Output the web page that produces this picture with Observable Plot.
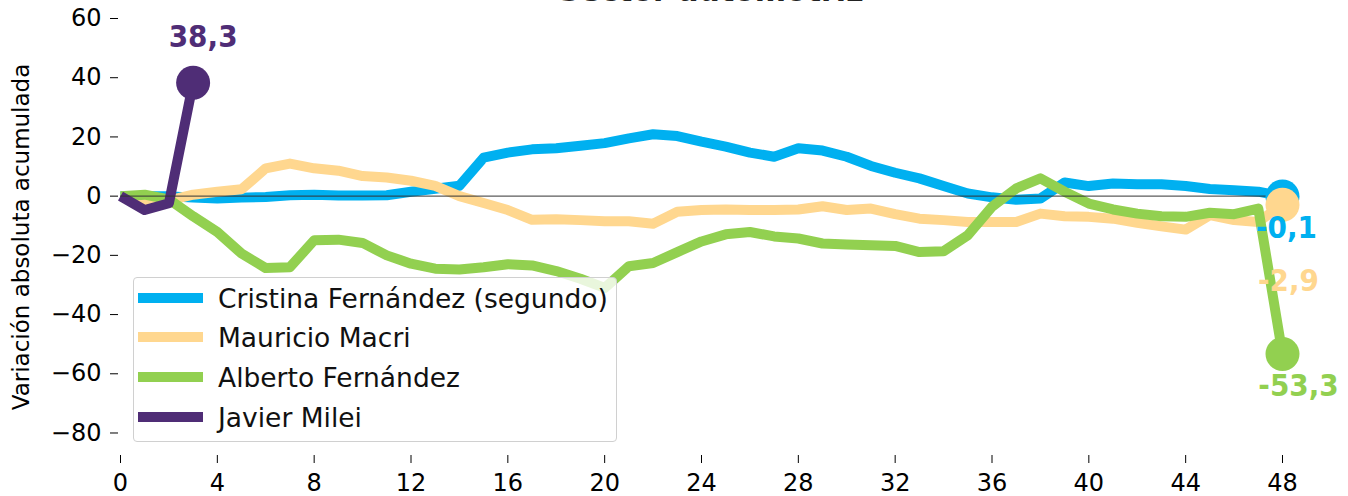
<!DOCTYPE html>
<html>
<head>
<meta charset="utf-8">
<script src="https://cdn.jsdelivr.net/npm/d3@7"></script>
<script src="https://cdn.jsdelivr.net/npm/@observablehq/plot@0.6"></script>
<style>
  html, body { margin: 0; padding: 0; background: #fff; overflow: hidden; }
  #wrap { position: relative; width: 1348px; height: 496px; }
  #title { position: absolute; top: -26px; left: 0; width: 1422px; text-align: center;
           font: bold 30px "DejaVu Sans", sans-serif; color: #222; line-height: 34px; }
  #legend { position: absolute; left: 133px; top: 277px; width: 482px; height: 163px;
            border: 1.5px solid #d0d0d0; border-radius: 4px; background: rgba(255,255,255,0.8);
            font-family: "DejaVu Sans", sans-serif; font-size: 26.5px; color: #111; }
  .row { position: absolute; left: 4px; height: 30px; display: flex; align-items: center; white-space: nowrap; }
  .sw { width: 65px; height: 10px; margin-right: 15px; }
</style>
</head>
<body>
<div id="wrap">
  <div id="chart"></div>
  <div id="legend"></div>
  <div id="title"></div>
</div>
<script>
const titleText = "Sector automotriz";
const yLabel = "Variación absoluta acumulada";
const seriesNames = ["Cristina Fernández (segundo)", "Mauricio Macri", "Alberto Fernández", "Javier Milei"];
const seriesColors = ["#00b0f0", "#ffd78f", "#92d050", "#4f2d76"];
const xTicks = [0, 4, 8, 12, 16, 20, 24, 28, 32, 36, 40, 44, 48];
const yTicks = [60, 40, 20, 0, -20, -40, -60, -80];

const cristina = [0, 0, 0, -0.5, -0.8, -0.5, -0.3, 0.3, 0.5, 0.2, 0.2, 0.3, 1.5, 2.5, 3.5, 13, 14.7, 15.8, 16.2, 17, 17.9, 19.5, 20.9, 20.3, 18.4, 16.7, 14.7, 13.3, 16.2, 15.4, 13.3, 10.2, 7.9, 6, 3.4, 0.9, -0.4, -1.2, -0.8, 4.6, 3.4, 4.3, 4, 4, 3.4, 2.4, 2, 1.5, -0.1];
const macri = [0, -1.9, -1.4, 0.5, 1.5, 2.3, 9.4, 11, 9.4, 8.6, 6.8, 6.3, 5.2, 3.5, 0, -2.3, -4.7, -8, -7.8, -8.1, -8.5, -8.5, -9.3, -5.3, -4.7, -4.5, -4.7, -4.7, -4.5, -3.4, -4.7, -4.2, -6.1, -7.6, -8.1, -8.7, -8.7, -8.7, -5.9, -6.8, -7, -7.6, -9, -10.2, -11.3, -6.4, -8.1, -8.7, -2.9];
const alberto = [0, 0.5, -1.1, -6.8, -12.1, -19.4, -24.3, -24, -14.9, -14.7, -15.8, -20, -22.8, -24.5, -24.8, -24, -23, -23.4, -25.3, -27.9, -31, -23.7, -22.6, -18.9, -15.3, -12.9, -12.1, -13.6, -14.3, -16, -16.3, -16.6, -16.8, -18.9, -18.6, -13.2, -3.6, 2.6, 6, 1.5, -2.5, -4.5, -5.9, -6.8, -7, -5.6, -6.1, -4.2, -53.3];
const milei = [0, -4.7, -2.4, 38.3];

const seriesValues = [cristina, macri, alberto, milei];
const rows = seriesNames.flatMap((name, s) => seriesValues[s].map((v, i) => ({series: name, month: i, value: v})));
const lastPoints = seriesNames.map((name, s) => {
  const vals = seriesValues[s];
  return {series: name, month: vals.length - 1, value: vals[vals.length - 1]};
});
const fmt = v => String(v).replace(".", ",");
const labelOffsets = {
  "Cristina Fernández (segundo)": [4, 32],
  "Mauricio Macri": [6, 76],
  "Alberto Fernández": [16, 32],
  "Javier Milei": [10, -46]
};
const minus = d => d < 0 ? "\u2212" + Math.abs(d) : String(d);

const chart = Plot.plot({
  width: 1348,
  height: 496,
  marginLeft: 120,
  marginRight: 66,
  marginTop: 18,
  marginBottom: 41,
  style: {fontFamily: "DejaVu Sans, sans-serif", fontSize: "24px", color: "#000", background: "#fff", overflow: "visible"},
  x: {domain: [0, 48], axis: null},
  y: {domain: [-87.6, 60], axis: null},
  color: {domain: seriesNames, range: seriesColors},
  marks: [
    Plot.axisX({ticks: xTicks, tickSize: 8, tickPadding: 10, tickFormat: d => String(d), fontSize: 24, label: null, dy: 0}),
    Plot.axisY({ticks: yTicks, tickSize: 8, tickPadding: 9, tickFormat: minus, fontSize: 24, dx: -2,
                label: yLabel, labelAnchor: "center", labelArrow: "none", labelOffset: 108}),
    Plot.line(rows, {x: "month", y: "value", stroke: "series", z: "series", strokeWidth: 10, strokeLinejoin: "round", strokeLinecap: "butt"}),
    Plot.ruleY([0], {x1: 0, x2: 48, stroke: "#333", strokeOpacity: 0.8, strokeWidth: 1.3}),
    Plot.dot(lastPoints, {x: "month", y: "value", fill: "series", r: 17, stroke: "none"}),
    ...lastPoints.map(p => Plot.text([p], {
      x: "month", y: "value", text: d => fmt(d.value), fill: "series",
      dx: labelOffsets[p.series][0], dy: labelOffsets[p.series][1],
      fontSize: 31, fontWeight: "bold",
      fontFamily: "DejaVu Sans Condensed, DejaVu Sans, sans-serif"
    }))
  ]
});
document.getElementById("chart").appendChild(chart);
d3.select(chart).selectAll("[aria-label='y-axis label'] text").style("font-size", "23px");

document.getElementById("title").textContent = titleText;

const legend = document.getElementById("legend");
const rowTops = [5, 44, 84, 124];
seriesNames.forEach((name, i) => {
  const r = document.createElement("div");
  r.className = "row";
  r.style.top = rowTops[i] + "px";
  const sw = document.createElement("div");
  sw.className = "sw";
  sw.style.background = seriesColors[i];
  const t = document.createElement("span");
  t.textContent = name;
  r.appendChild(sw); r.appendChild(t);
  legend.appendChild(r);
});
</script>
</body>
</html>
